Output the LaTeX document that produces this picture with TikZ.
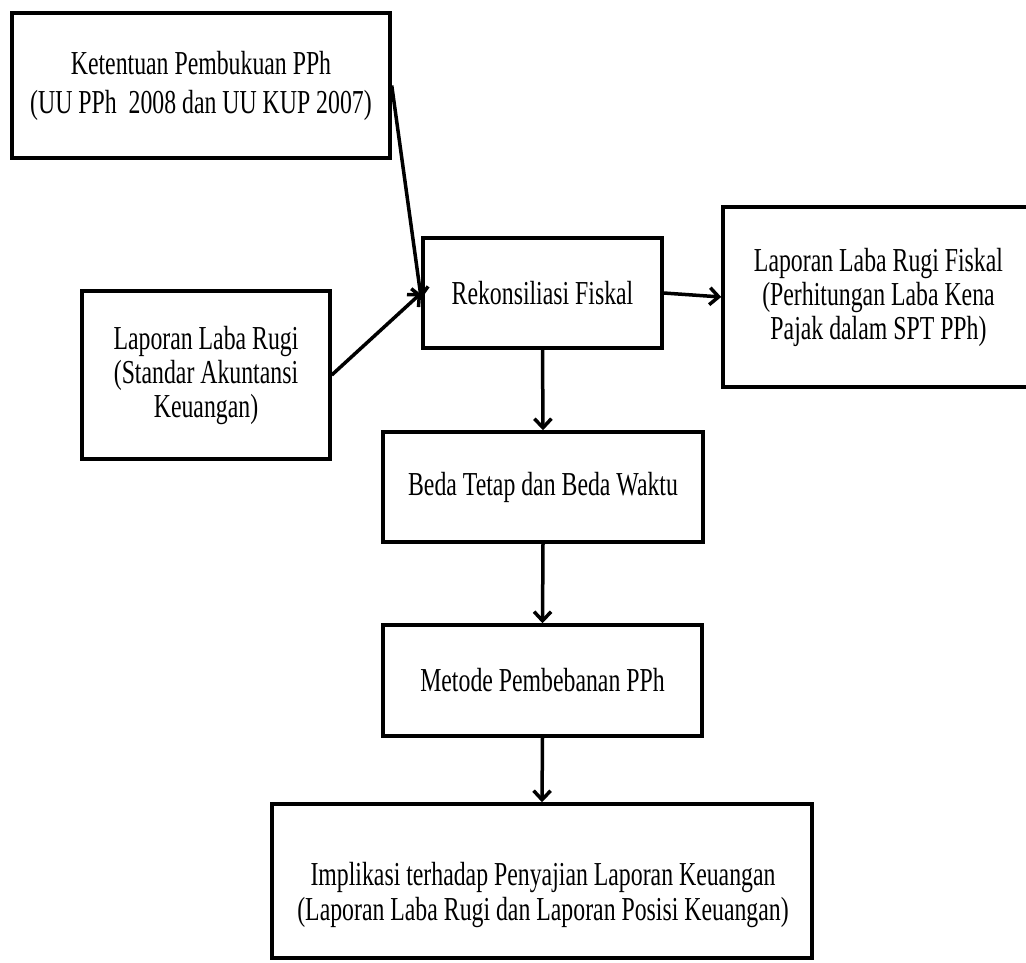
\documentclass[tikz,border=0pt]{standalone}
\usepackage{fontspec}
\setmainfont{Liberation Serif}[FakeStretch=0.71]
\usetikzlibrary{arrows.meta,calc}
\begin{document}
\begin{tikzpicture}[x=1pt,y=-1pt,
  box/.style={draw=black,line width=3.5pt,rectangle,align=center,inner sep=0pt,
    font=\fontsize{33.5}{34}\selectfont},
  txt/.style={align=center,inner sep=0pt,font=\fontsize{33.5}{35}\selectfont},
  conn/.style={line width=3.5pt,-{Straight Barb[length=9pt,width=17pt,line width=3.5pt]}}]
\useasboundingbox[fill=white] (0,0) rectangle (1026,963);
\node[box,minimum width=378pt,minimum height=145pt] (b1) at (201,85.5)
  {Ketentuan Pembukuan PPh\\[5pt](UU PPh\ \ 2008 dan UU KUP 2007)};
\node[box,minimum width=239pt,minimum height=110pt] (b2) at (542.5,293)
  {Rekonsiliasi Fiskal};
\node[box,minimum width=311pt,minimum height=180pt] (b3) at (878.5,297)
  {Laporan Laba Rugi Fiskal\\(Perhitungan Laba Kena\\Pajak dalam SPT PPh)};
\node[box,minimum width=248pt,minimum height=168pt] (b4) at (206,375)
  {Laporan Laba Rugi\\(Standar Akuntansi\\Keuangan)};
\node[box,minimum width=320pt,minimum height=110pt] (b5) at (543,487)
  {Beda Tetap dan Beda Waktu};
\node[box,minimum width=319pt,minimum height=111pt] (b6) at (542.5,680.5)
  {Metode Pembebanan PPh};
\node[box,minimum width=540pt,minimum height=154pt] (b7) at (542,881) {};
\node[txt] (t7) at (543,895)
  {Implikasi terhadap Penyajian Laporan Keuangan\\(Laporan Laba Rugi dan Laporan Posisi Keuangan)};
\draw[conn] (b1.east) -- ([yshift=-6pt]b2.west);
\draw[conn] (b4.east) -- (b2.west);
\draw[conn] (b2.east) -- (b3.west);
\draw[conn] (b2.south) -- (b5.north);
\draw[conn] (b5.south) -- (b6.north);
\draw[conn] (b6.south) -- (b7.north);
\end{tikzpicture}
\end{document}
